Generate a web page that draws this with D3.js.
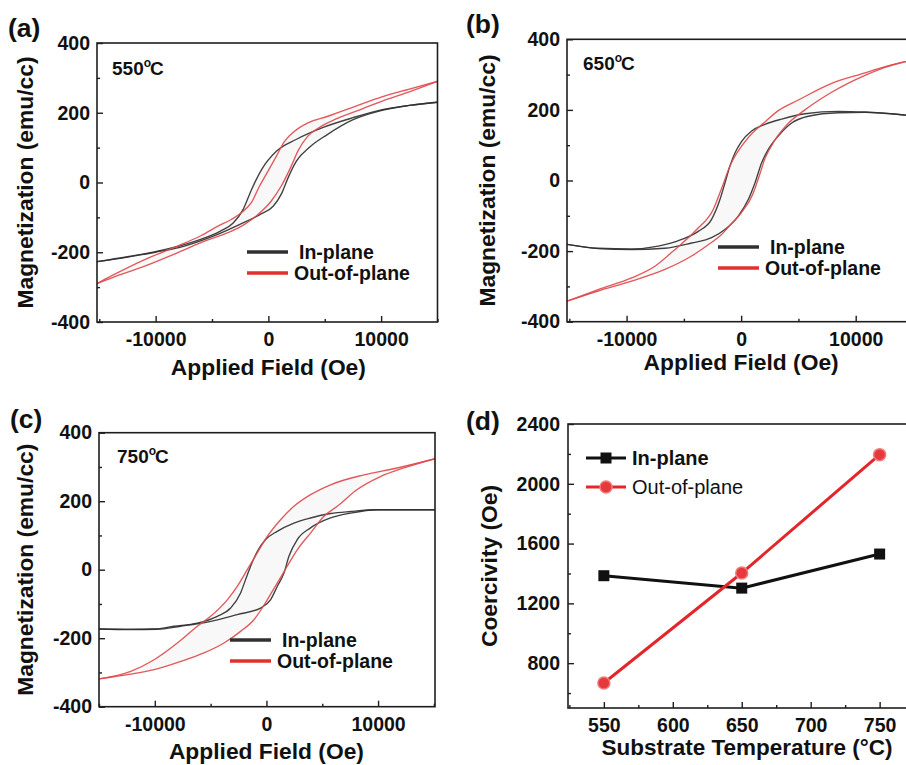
<!DOCTYPE html>
<html><head><meta charset="utf-8">
<script src="https://cdn.jsdelivr.net/npm/d3@7"></script>
<style>
body{margin:0;background:#fff;}
svg{display:block;font-family:"Liberation Sans",Arial,sans-serif;}
</style></head><body>
<svg id="chart" width="906" height="765"></svg>
<script>
// ---------------- data ----------------
const fieldTicks = [-10000, 0, 10000];
const fieldMinorTicks = [-15000, -5000, 5000, 15000];
const magTicks = [-400, -200, 0, 200, 400];
const magMinorTicks = [-300, -100, 100, 300];

// [field (Oe), magnetization (emu/cc)] ; descending branch (+H -> -H), ascending branch (-H -> +H)
const inPlane550Desc = [[15000,230],[12500,221],[10000,208],[7520,186],[4860,158],[2500,124],[727,90],[-603,37],[-1490,-20],[-2234,-77],[-3120,-116],[-4300,-140],[-6073,-164],[-7846,-182],[-10000,-198],[-12500,-213],[-15200,-227]];
const inPlane550Asc  = [[-15200,-227],[-12500,-214],[-10000,-200],[-7846,-186],[-4894,-154],[-2527,-120],[-754,-92],[425,-68],[1170,-32],[1755,14],[2500,62],[3680,102],[5160,136],[7520,180],[10000,206],[12500,221],[15000,230]];
const outPlane550Desc = [[15000,290],[12500,268],[10000,245],[8235,225],[5275,190],[3500,171],[2323,147],[1436,118],[700,75],[-44,32],[-780,-10],[-1516,-58],[-2403,-87],[-3290,-106],[-4472,-125],[-5950,-152],[-8020,-182],[-10975,-221],[-13930,-268],[-15200,-290]];
const outPlane550Asc  = [[-15200,-290],[-13930,-274],[-10975,-240],[-8020,-201],[-5656,-168],[-3590,-144],[-2110,-120],[-930,-92],[257,-53],[1143,-10],[2030,47],[2615,90],[3500,133],[4690,161],[5870,180],[8235,210],[10000,232],[12500,260],[15000,290]];

const inPlane650Desc = [[15000,183],[14390,185],[10810,194],[8480,196],[5570,189],[3540,174],[2080,159],[917,140],[44,111],[-541,78],[-978,41],[-1415,-7],[-1851,-54],[-2580,-110],[-3745,-144],[-5200,-167],[-7240,-186],[-9565,-194],[-12480,-192],[-15200,-181]];
const inPlane650Asc  = [[-15200,-181],[-12480,-193],[-9565,-196],[-6650,-192],[-4325,-177],[-2580,-162],[-1415,-139],[-253,-101],[620,-54],[1205,-7],[1790,50],[2370,88],[3240,126],[4410,163],[5860,182],[8480,192],[10810,193],[14390,185],[15000,183]];
const outPlane650Desc = [[15000,342],[12500,322],[10810,305],[7900,275],[4990,228],[3240,198],[2150,168],[480,116],[-978,41],[-1703,-22],[-2437,-82],[-3890,-139],[-5930,-200],[-7530,-243],[-9565,-276],[-12480,-309],[-15200,-342]];
const outPlane650Asc  = [[-15200,-342],[-12480,-313],[-9565,-285],[-6650,-252],[-4325,-214],[-2870,-182],[-1800,-156],[-830,-122],[0,-92],[1000,-40],[1600,15],[2080,62],[2900,112],[4000,158],[5570,200],[7900,250],[10810,298],[12500,320],[15000,342]];

const inPlane750Desc = [[15100,175],[9920,175],[7530,170],[5740,164],[3950,151],[2460,136],[967,112],[-75,88],[-824,53],[-1420,10],[-1870,-29],[-2315,-68],[-3210,-112],[-4405,-136],[-6195,-156],[-8280,-165],[-10070,-173],[-12160,-174],[-15000,-173]];
const inPlane750Asc  = [[-15000,-173],[-12160,-175],[-9780,-174],[-7690,-165],[-5300,-153],[-2615,-131],[-530,-112],[366,-88],[967,-49],[1567,-10],[2014,39],[2760,88],[3950,122],[5740,151],[7530,165],[9920,175],[15100,175]];
const outPlane750Desc = [[15100,324],[11710,297],[8730,277],[5740,248],[3950,219],[2460,185],[1265,146],[72,97],[-824,49],[-1720,0],[-2615,-49],[-3510,-88],[-5000,-136],[-6195,-165],[-7985,-214],[-10070,-263],[-12160,-297],[-15000,-319]];
const outPlane750Asc  = [[-15000,-319],[-12160,-305],[-10070,-292],[-7690,-268],[-5600,-243],[-3800,-214],[-2315,-180],[-1120,-146],[72,-88],[967,-39],[1862,10],[2760,58],[3950,107],[5150,156],[6340,185],[8130,234],[10215,272],[12310,297],[15100,324]];

// panel (d)
const temperatures = [550, 650, 750];
const coercivityInPlane = [1385, 1302, 1530];
const coercivityOutOfPlane = [667, 1403, 2195];
const tempTicks = [550, 600, 650, 700, 750];
const tempMinorTicks = [525, 575, 625, 675, 725, 775];
const coerTicks = [800, 1200, 1600, 2000, 2400];
const coerMinorTicks = [600, 1000, 1400, 1800, 2200];

const legendLabels = ["In-plane", "Out-of-plane"];

// ---------------- drawing ----------------
const svg = d3.select("#chart");
svg.append("rect").attr("width",906).attr("height",765).attr("fill","#fff");
const defs = svg.append("defs");

const BLACK = "#303030", RED = "#e04a4d";
const FRAME = "#1e1e1e";

function panelLabel(txt, x, y){
  svg.append("text").attr("x",x).attr("y",y).attr("font-size",26.5).attr("font-weight","bold").attr("fill","#111").text(txt);
}
function styleAxis(g, size){
  g.select(".domain").remove();
  g.selectAll(".tick line").attr("stroke",FRAME).attr("stroke-width",1.4);
  g.selectAll(".tick text").attr("font-size",size).attr("font-weight","bold").attr("fill","#111").attr("font-family","Liberation Sans, Arial, sans-serif");
}
const ascending = d => d.slice().sort((a, b) => a[0] - b[0]);

const loopPanels = [
  {id:"a", label:"(a)", lx:8, ly:37, temp:"550", tx:112, ty:75,
   left:97, right:437.5, top:43, bottom:322, xDomain:[-15200,15000],
   inDesc:inPlane550Desc, inAsc:inPlane550Asc, outDesc:outPlane550Desc, outAsc:outPlane550Asc,
   legX:247, legY:252, ytX:33, xtY:375},
  {id:"b", label:"(b)", lx:466, ly:33, temp:"650", tx:583, ty:70,
   left:567, right:913, top:39.3, bottom:321.7, xDomain:[-15200,15000],
   inDesc:inPlane650Desc, inAsc:inPlane650Asc, outDesc:outPlane650Desc, outAsc:outPlane650Asc,
   legX:718, legY:247, ytX:495, xtY:370},
  {id:"c", label:"(c)", lx:10, ly:428, temp:"750", tx:117, ty:463,
   left:99, right:435, top:432.7, bottom:706.7, xDomain:[-15000,15100],
   inDesc:inPlane750Desc, inAsc:inPlane750Asc, outDesc:outPlane750Desc, outAsc:outPlane750Asc,
   legX:230, legY:640, ytX:33, xtY:759}
];

loopPanels.forEach(p => {
  const x = d3.scaleLinear().domain(p.xDomain).range([p.left, p.right]);
  const y = d3.scaleLinear().domain([-400, 400]).range([p.bottom, p.top]);
  const clipId = "clip-" + p.id;
  defs.append("clipPath").attr("id", clipId).append("rect")
    .attr("x", p.left).attr("y", p.top).attr("width", p.right - p.left).attr("height", p.bottom - p.top);

  const line = d3.line().x(d => x(d[0])).y(d => y(d[1])).curve(d3.curveMonotoneX);
  const plot = svg.append("g").attr("clip-path", `url(#${clipId})`);

  // faint loop interiors
  [[p.inDesc, p.inAsc], [p.outDesc, p.outAsc]].forEach(([d1, d2]) => {
    plot.append("path").attr("d", d3.line().x(d => x(d[0])).y(d => y(d[1]))(ascending(d1).concat(ascending(d2).reverse())) + "Z")
      .attr("fill", "#f8f8f8").attr("stroke", "none");
  });
  // in-plane loops
  [p.inDesc, p.inAsc].forEach(d => plot.append("path").attr("d", line(ascending(d)))
    .attr("fill","none").attr("stroke",BLACK).attr("stroke-width",1.35).attr("stroke-opacity",0.92));
  // out-of-plane loops
  [p.outDesc, p.outAsc].forEach(d => plot.append("path").attr("d", line(ascending(d)))
    .attr("fill","none").attr("stroke",RED).attr("stroke-width",1.35).attr("stroke-opacity",0.92));

  // axes (ticks point inward)
  const gy = svg.append("g").attr("transform", `translate(${p.left},0)`)
    .call(d3.axisLeft(y).tickValues(magTicks).tickSizeInner(-6).tickSizeOuter(0).tickPadding(7).tickFormat(d => String(d)));
  styleAxis(gy, 19.5);
  const gym = svg.append("g").attr("transform", `translate(${p.left},0)`)
    .call(d3.axisLeft(y).tickValues(magMinorTicks).tickSizeInner(-3).tickSizeOuter(0).tickFormat(""));
  styleAxis(gym, 0);
  const gx = svg.append("g").attr("transform", `translate(0,${p.bottom})`)
    .call(d3.axisBottom(x).tickValues(fieldTicks).tickSizeInner(-6).tickSizeOuter(0).tickPadding(10).tickFormat(d => String(d)));
  styleAxis(gx, 19.5);
  const gxm = svg.append("g").attr("transform", `translate(0,${p.bottom})`)
    .call(d3.axisBottom(x).tickValues(fieldMinorTicks.filter(v => v >= p.xDomain[0] && v <= p.xDomain[1])).tickSizeInner(-3).tickSizeOuter(0).tickFormat(""));
  styleAxis(gxm, 0);

  // frame
  svg.append("rect").attr("x",p.left).attr("y",p.top).attr("width",p.right-p.left).attr("height",p.bottom-p.top)
    .attr("fill","none").attr("stroke",FRAME).attr("stroke-width",1.6);

  // axis titles
  svg.append("text").attr("transform", `translate(${p.ytX},${(p.top+p.bottom)/2}) rotate(-90)`)
    .attr("text-anchor","middle").attr("font-size",22.8).attr("font-weight","bold").attr("fill","#111")
    .text("Magnetization (emu/cc)");
  svg.append("text").attr("x", x(0)).attr("y", p.xtY).attr("text-anchor","middle")
    .attr("font-size",22.8).attr("font-weight","bold").attr("fill","#111").text("Applied Field (Oe)");

  // temperature
  const t = svg.append("text").attr("x",p.tx).attr("y",p.ty).attr("font-size",19).attr("font-weight","bold").attr("fill","#111");
  t.append("tspan").text(p.temp);
  t.append("tspan").attr("font-size",12).attr("dy",-8).text("o");
  t.append("tspan").attr("dy",8).attr("dx",-1).text("C");

  // legend
  [[BLACK, legendLabels[0], 0, 11], ["#e0302f", legendLabels[1], 21, 6]].forEach(([c, lab, dy, tdx]) => {
    svg.append("line").attr("x1",p.legX).attr("x2",p.legX+41).attr("y1",p.legY+dy).attr("y2",p.legY+dy)
      .attr("stroke",c).attr("stroke-width",3.6);
    svg.append("text").attr("x",p.legX+41+tdx).attr("y",p.legY+dy+7).attr("font-size",19.5)
      .attr("font-weight","bold").attr("fill","#111").text(lab);
  });

  panelLabel(p.label, p.lx, p.ly);
});

// ---------------- panel (d) ----------------
(function(){
  const left = 568, right = 921, top = 424, bottom = 708;
  const x = d3.scaleLinear().domain([524, 780]).range([left, right]);
  const y = d3.scaleLinear().domain([500, 2400]).range([bottom, top]);
  const RED_D = "#e3262a";

  const gy = svg.append("g").attr("transform", `translate(${left},0)`)
    .call(d3.axisLeft(y).tickValues(coerTicks).tickSizeInner(-6).tickSizeOuter(0).tickPadding(8).tickFormat(d => String(d)));
  styleAxis(gy, 19.5);
  const gym = svg.append("g").attr("transform", `translate(${left},0)`)
    .call(d3.axisLeft(y).tickValues(coerMinorTicks).tickSizeInner(-3).tickSizeOuter(0).tickFormat(""));
  styleAxis(gym, 0);
  const gx = svg.append("g").attr("transform", `translate(0,${bottom})`)
    .call(d3.axisBottom(x).tickValues(tempTicks).tickSizeInner(-6).tickSizeOuter(0).tickPadding(10).tickFormat(d => String(d)));
  styleAxis(gx, 19.5);
  const gxm = svg.append("g").attr("transform", `translate(0,${bottom})`)
    .call(d3.axisBottom(x).tickValues(tempMinorTicks).tickSizeInner(-3).tickSizeOuter(0).tickFormat(""));
  styleAxis(gxm, 0);

  svg.append("rect").attr("x",left).attr("y",top).attr("width",right-left).attr("height",bottom-top)
    .attr("fill","none").attr("stroke",FRAME).attr("stroke-width",1.6);

  const inPts = temperatures.map((t,i) => [t, coercivityInPlane[i]]);
  const outPts = temperatures.map((t,i) => [t, coercivityOutOfPlane[i]]);
  const line = d3.line().x(d => x(d[0])).y(d => y(d[1]));

  svg.append("path").attr("d", line(inPts)).attr("fill","none").attr("stroke","#111").attr("stroke-width",3);
  svg.append("path").attr("d", line(outPts)).attr("fill","none").attr("stroke",RED_D).attr("stroke-width",3);
  svg.selectAll(".sq").data(inPts).join("rect")
    .attr("x", d => x(d[0]) - 5.5).attr("y", d => y(d[1]) - 5.5).attr("width",11).attr("height",11).attr("fill","#111");
  svg.selectAll(".ci").data(outPts).join("circle")
    .attr("cx", d => x(d[0])).attr("cy", d => y(d[1])).attr("r",6)
    .attr("fill","#e5393b").attr("stroke","#f07a7a").attr("stroke-width",1.5);

  // legend
  const lx = 586, ly1 = 458, ly2 = 487;
  svg.append("line").attr("x1",lx).attr("x2",lx+40).attr("y1",ly1).attr("y2",ly1).attr("stroke","#111").attr("stroke-width",3);
  svg.append("rect").attr("x",lx+20-5.5).attr("y",ly1-5.5).attr("width",11).attr("height",11).attr("fill","#111");
  svg.append("text").attr("x",lx+46).attr("y",ly1+7).attr("font-size",20).attr("font-weight","bold").attr("fill","#111").text(legendLabels[0]);
  svg.append("line").attr("x1",lx).attr("x2",lx+40).attr("y1",ly2).attr("y2",ly2).attr("stroke",RED_D).attr("stroke-width",3);
  svg.append("circle").attr("cx",lx+20).attr("cy",ly2).attr("r",6).attr("fill","#e5393b").attr("stroke","#f07a7a").attr("stroke-width",1.5);
  svg.append("text").attr("x",lx+46).attr("y",ly2+7).attr("font-size",20).attr("fill","#111").text(legendLabels[1]);

  svg.append("text").attr("transform", `translate(497,${(top+bottom)/2}) rotate(-90)`)
    .attr("text-anchor","middle").attr("font-size",22.8).attr("font-weight","bold").attr("fill","#111").text("Coercivity (Oe)");
  svg.append("text").attr("x",747).attr("y",755).attr("text-anchor","middle")
    .attr("font-size",22.5).attr("font-weight","bold").attr("fill","#111").text("Substrate Temperature (°C)");

  panelLabel("(d)", 466, 430);
})();
</script>
</body></html>
